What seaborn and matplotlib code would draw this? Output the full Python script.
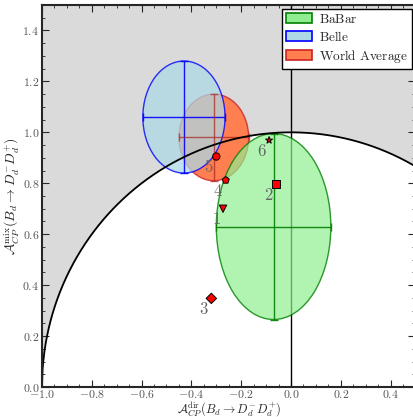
import numpy as np
import pandas as pd
import matplotlib
matplotlib.use("Agg")
import matplotlib.pyplot as plt
import seaborn as sns
from matplotlib.patches import Ellipse, Patch
from matplotlib.ticker import MultipleLocator, FuncFormatter

# Измерения: центр (C, -S) и ошибки
exp_names = ["BaBar", "Belle", "World Average"]
exp_x = [-0.07, -0.43, -0.31]
exp_y = [0.63, 1.06, 0.98]
exp_dx = [0.23, 0.165, 0.14]
exp_dy = [0.365, 0.22, 0.17]

# Точки сценариев 1..6
pt_labels = ["1", "2", "3", "4", "5", "6"]
pt_x = [-0.273, -0.06, -0.32, -0.262, -0.30, -0.088]
pt_y = [0.700, 0.797, 0.348, 0.812, 0.905, 0.969]
pt_markers = ["v", "s", "D", "p", "o", "*"]

sns.set_style("ticks")
plt.rcParams["mathtext.fontset"] = "cm"
plt.rcParams["font.family"] = ["DejaVu Serif"]

fig = plt.figure(figsize=(4.14, 4.17), dpi=100)
ax = fig.add_axes([42 / 414, 30 / 417, 373.5 / 414, 382 / 417])

# Область вне единичного круга
xc = np.linspace(-1.0, 0.5, 600)
yc = np.sqrt(np.clip(1 - xc ** 2, 0, None))
ax.fill_between(xc, yc, 1.5, color="#dadada", lw=0, zorder=0)
ax.plot(xc, yc, color="black", lw=1.3, zorder=6)
ax.axvline(0.0, color="black", lw=1.0, zorder=1)

face = {"BaBar": "lightgreen", "Belle": "lightblue", "World Average": "coral"}
edge = {"BaBar": "green", "Belle": "blue", "World Average": "#cc2222"}
bar = {"BaBar": "green", "Belle": "blue", "World Average": "#aa2020"}
alpha = {"BaBar": 0.7, "Belle": 0.75, "World Average": 1.0}
zo = {"World Average": 2, "Belle": 3, "BaBar": 4}

for n, x, y, dx, dy in zip(exp_names, exp_x, exp_y, exp_dx, exp_dy):
    e = Ellipse((x, y), 2 * dx, 2 * dy, facecolor=face[n], edgecolor="none",
                alpha=alpha[n], zorder=zo[n])
    ax.add_patch(e)
    e2 = Ellipse((x, y), 2 * dx, 2 * dy, facecolor="none", edgecolor=edge[n],
                 lw=1.0, alpha=0.8, zorder=zo[n])
    ax.add_patch(e2)
    ax.errorbar(x, y, xerr=dx, yerr=dy, color=bar[n], lw=1.0, capsize=3,
                alpha=0.7 if n == "World Average" else 0.9, zorder=5)

pts = pd.DataFrame({"x": pt_x, "y": pt_y, "lab": pt_labels})
sns.scatterplot(data=pts, x="x", y="y", style="lab",
                markers=dict(zip(pt_labels, pt_markers)), color="red",
                edgecolor="black", linewidth=0.7, s=28, legend=False, ax=ax, zorder=7)
for x, y, t in zip(pt_x, pt_y, pt_labels):
    ax.text(x - 0.01, y - 0.01, "$%s$" % t, color="#666666", fontsize=12,
            ha="right", va="top", zorder=8)

ax.set_xlim(-1.0, 0.5)
ax.set_ylim(0.0, 1.5)
ax.xaxis.set_major_locator(MultipleLocator(0.2))
ax.xaxis.set_minor_locator(MultipleLocator(0.05))
ax.yaxis.set_major_locator(MultipleLocator(0.2))
ax.yaxis.set_minor_locator(MultipleLocator(0.05))
fmt = FuncFormatter(lambda v, p: "$%.1f$" % v)
ax.xaxis.set_major_formatter(fmt)
ax.yaxis.set_major_formatter(fmt)
ax.tick_params(which="both", direction="in", top=True, right=True,
               labelsize=8.5, labelcolor="#555555", pad=2)
ax.tick_params(axis="x", which="both", pad=1)
ax.tick_params(which="major", length=5)
ax.tick_params(which="minor", length=2.5)
for s in ax.spines.values():
    s.set_linewidth(1.5)
    s.set_zorder(10)

ax.set_xlabel(r"$\mathcal{A}_{CP}^{\rm dir}(B_d\to D_d^{-}D_d^{+})$", fontsize=9, va="top")
ax.xaxis.set_label_coords(0.5, -0.034)
ax.set_ylabel(r"$\mathcal{A}_{CP}^{\rm mix}(B_d\to D_d^{-}D_d^{+})$", fontsize=10, labelpad=1)

handles = [Patch(facecolor=face[n], edgecolor=edge[n], lw=1.2) for n in exp_names]
labels = [r"$\mathrm{BaBar}$", r"$\mathrm{Belle}$", r"$\mathrm{World\ Average}$"]
leg = ax.legend(handles, labels, loc="upper right", fontsize=9.5, fancybox=False,
                framealpha=1, edgecolor="black", borderaxespad=0.3,
                handlelength=2.0, handleheight=0.8, labelspacing=0.3,
                borderpad=0.3, handletextpad=0.5)
leg.get_frame().set_linewidth(1.0)
leg.set_zorder(11)

fig.savefig("out.png", dpi=100)
